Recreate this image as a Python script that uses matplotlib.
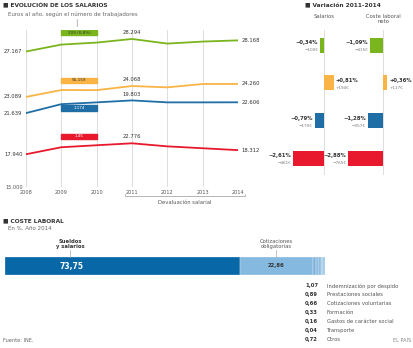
import matplotlib.pyplot as plt
import matplotlib.patches as mpatches

W, H = 414, 348

years = [2008, 2009, 2010, 2011, 2012, 2013, 2014]
green = [27167, 27790, 27970, 28294, 27880, 28060, 28168]
orange = [23089, 23710, 23700, 24068, 23950, 24250, 24260]
blue = [21639, 22440, 22600, 22776, 22600, 22600, 22606]
red = [17940, 18570, 18750, 18924, 18650, 18480, 18312]
left_labels = ["27.167", "23.089", "21.639", "17.940"]
right_labels = ["28.168", "24.260", "22.606", "18.312"]
mid_labels = ["28.294", "24.068", "19.803", "22.776"]
box_labels = ["209 (0,8%)", "55-159", "1.174", "1.45"]

var_salarios = [-0.34, 0.81, -0.79, -2.61]
var_salarios_eur = ["\u2212100\u20ac", "+194\u20ac", "\u2212170\u20ac", "\u2212461\u20ac"]
var_coste = [-1.09, 0.36, -1.28, -2.88]
var_coste_eur = ["\u2212415\u20ac", "+117\u20ac", "\u2212357\u20ac", "\u2212765\u20ac"]

coste_vals = [73.75, 22.86, 1.07, 0.89, 0.66, 0.33, 0.16, 0.04, 0.72]
otros_names = ["Indemnización por despido", "Prestaciones sociales",
               "Cotizaciones voluntarias", "Formación",
               "Gastos de carácter social", "Transporte", "Otros"]

colors = ["#7ab51d", "#f9b445", "#1f6fa6", "#e8192c"]
txt = "#333333"
grid = "#dddddd"


def box(x0, y0, x1, y1):
    return [x0 / W, 1 - y1 / H, (x1 - x0) / W, (y1 - y0) / H]


fig = plt.figure(figsize=(W / 100, H / 100), dpi=100)
plt.rcParams['font.family'] = ['DejaVu Sans']

# ---- Evolucion de los salarios
fig.text(3 / W, 1 - 6 / H, "\u25a0 EVOLUCIÓN DE LOS SALARIOS", fontsize=4.2,
         fontweight="bold", color=txt, va="center")
fig.text(8 / W, 1 - 14 / H, "Euros al año, según el número de trabajadores",
         fontsize=4, color="#666666", va="center")

ax = fig.add_axes(box(26, 30, 238, 187))
ax.set_xlim(2008, 2014)
ax.set_ylim(15000, 29100)
for y in years:
    ax.axvline(y, color=grid, lw=0.7, zorder=0)
series = [green, orange, blue, red]
for s, c, ll, rl in zip(series, colors, left_labels, right_labels):
    ax.plot(years, s, color=c, lw=1.3, solid_capstyle="round")
    ax.text(2008 - 0.1, s[0], ll, fontsize=3.8, ha="right", va="center", color=txt)
    ax.text(2014 + 0.1, s[-1], rl, fontsize=3.8, ha="left", va="center", color=txt)
for s, ml in zip(series, mid_labels):
    ax.text(2011, s[3] + 350, ml, fontsize=3.8, ha="center", va="bottom", color=txt)

box_y = [28850, 24600, 22100, 19550]
box_tc = [txt, txt, "white", "white"]
for by, c, bl, tc in zip(box_y, colors, box_labels, box_tc):
    ax.add_patch(mpatches.Rectangle((2009, by - 230), 1, 460, color=c, zorder=3))
    ax.text(2009.5, by, bl, fontsize=3, ha="center", va="center", color=tc, zorder=4)
ax.annotate("", xy=(2009.45, 29150), xytext=(2009.45, 30300),
            arrowprops=dict(arrowstyle="-", color="#999999", lw=0.5),
            annotation_clip=False)
ax.set_yticks([15000])
ax.set_yticklabels(["15.000"])
ax.set_xticks(years)
ax.tick_params(length=0, labelsize=3.6, labelcolor="#555555", pad=2)
for sp in ax.spines.values():
    sp.set_visible(False)

# bracket devaluacion salarial
ax.plot([2010.8, 2010.8, 2014.2, 2014.2], [14400, 14150, 14150, 14400],
        color="#999999", lw=0.5, clip_on=False)
ax.text(2012.5, 13650, "Devaluación salarial", fontsize=3.8, ha="center",
        va="center", color="#555555")

# ---- Variacion 2011-2014
fig.text(305 / W, 1 - 6 / H, "\u25a0 Variación 2011-2014", fontsize=4.2,
         fontweight="bold", color=txt, va="center")
fig.text(324 / W, 1 - 16 / H, "Salarios", fontsize=3.8, color="#555555",
         ha="center", va="center")
fig.text(383 / W, 1 - 19 / H, "Coste laboral\nneto", fontsize=3.8,
         color="#555555", ha="center", va="center", linespacing=1.1)

cats = [0, 1, 2, 3]
for vals, eur, x0 in [(var_salarios, var_salarios_eur, 324),
                      (var_coste, var_coste_eur, 383)]:
    bx = fig.add_axes(box(x0 - 48, 30, x0 + 28, 175))
    bx.patch.set_alpha(0)
    bx.set_xlim(-48 / 12, 28 / 12)
    bx.set_ylim(3.45, -0.4)
    bx.axvline(0, color=grid, lw=0.7, zorder=0)
    bx.barh(cats, vals, height=0.4, color=colors)
    for i, (v, e) in enumerate(zip(vals, eur)):
        pct = ("+" if v > 0 else "\u2212") + f"{abs(v):.2f}".replace(".", ",") + "%"
        ha = "left" if v > 0 else "right"
        xt = v + (0.15 if v > 0 else -0.15)
        bx.text(xt, i - 0.06, pct, fontsize=3.8, fontweight="bold", ha=ha,
                va="center", color=txt)
        bx.text(xt, i + 0.14, e, fontsize=3, ha=ha, va="center", color="#777777")
    bx.axis("off")

# ---- Coste laboral
fig.text(3 / W, 1 - 221 / H, "\u25a0 COSTE LABORAL", fontsize=4.2,
         fontweight="bold", color=txt, va="center")
fig.text(8 / W, 1 - 229 / H, "En %. Año 2014", fontsize=4, color="#666666",
         va="center")

cx = fig.add_axes(box(5, 257, 325, 275))
cx.set_xlim(0, sum(coste_vals))
cx.set_ylim(0, 1)
seg_colors = ["#0867a6", "#85b9df", "#7fb1d8", "#8cbde2", "#7fb1d8",
              "#8cbde2", "#7fb1d8", "#8cbde2", "#9cc6e6"]
left = 0
for v, c in zip(coste_vals, seg_colors):
    cx.barh(0.5, v, left=left, height=1, color=c, edgecolor="white", lw=0.2)
    left += v
cx.axis("off")

fig.text(71 / W, 1 - 266 / H, "73,75", fontsize=5.5, fontweight="bold",
         color="white", ha="center", va="center")
fig.text(276 / W, 1 - 266 / H, "22,86", fontsize=3.8, fontweight="bold",
         color="#333333", ha="center", va="center")

fig.text(70 / W, 1 - 244 / H, "Sueldos\ny salarios", fontsize=3.8,
         fontweight="bold", color=txt, ha="center", va="center", linespacing=1.1)
fig.text(276 / W, 1 - 244 / H, "Cotizaciones\nobligatorias", fontsize=3.8,
         color="#555555", ha="center", va="center", linespacing=1.1)
fig.add_artist(plt.Line2D([70 / W, 70 / W], [1 - 250 / H, 1 - 257 / H],
                          color="#aaaaaa", lw=0.5))
fig.add_artist(plt.Line2D([276 / W, 276 / W], [1 - 250 / H, 1 - 257 / H],
                          color="#aaaaaa", lw=0.5))

for i, (v, name) in enumerate(zip(coste_vals[2:], otros_names)):
    yy = 1 - (286 + i * 8.9) / H
    fig.text(318 / W, yy, f"{v:.2f}".replace(".", ","), fontsize=3.8,
             fontweight="bold", color=txt, ha="right", va="center")
    fig.text(327 / W, yy, name, fontsize=3.8, color="#555555", ha="left",
             va="center")

fig.text(3 / W, 1 - 341 / H, "Fuente: INE.", fontsize=3.6, color="#666666",
         va="center")
fig.text(411 / W, 1 - 341 / H, "EL PAÍS", fontsize=3.6, color="#888888",
         ha="right", va="center")

fig.savefig("out.png", dpi=100, facecolor="white")
